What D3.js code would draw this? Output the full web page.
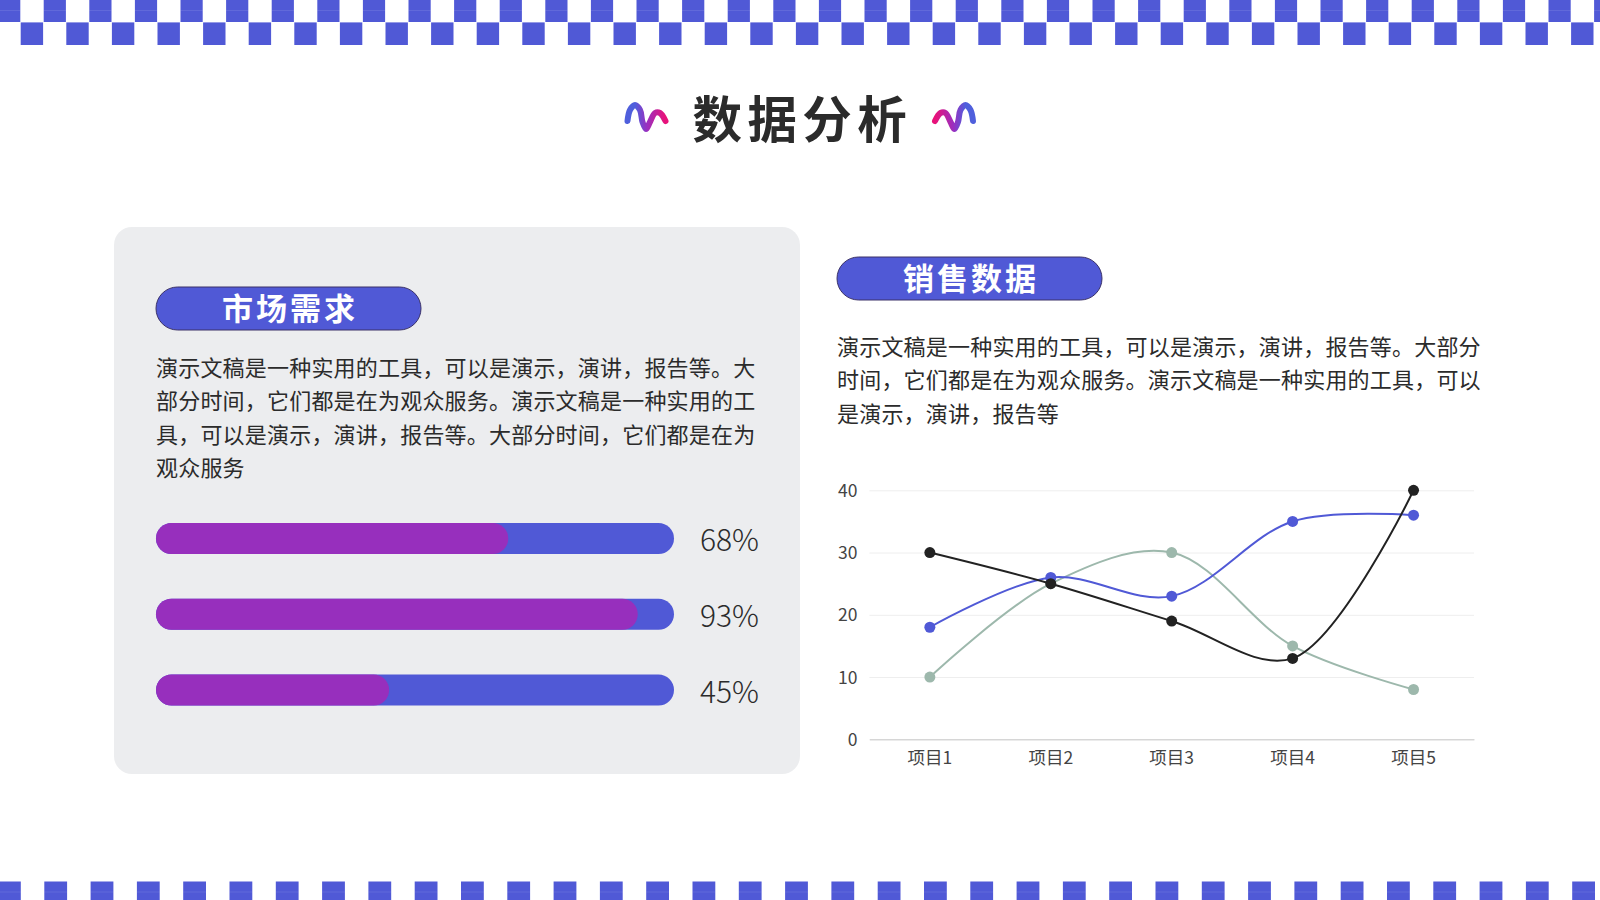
<!DOCTYPE html>
<html lang="zh-CN">
<head>
<meta charset="utf-8">
<title>数据分析</title>
<script src="https://cdn.jsdelivr.net/npm/d3@7"></script>
<style>
    html, body { margin: 0; padding: 0; background: #fff; }
    svg { display: block; }
    text { font-family: "Noto Sans CJK SC", "Noto Sans", sans-serif; }
</style>
</head>
<body>
<script>
//Data:
var title = '数据分析';
var leftHeading = '市场需求';
var rightHeading = '销售数据';
var leftLines = [
    '演示文稿是一种实用的工具\uFF0C可以是演示\uFF0C演讲\uFF0C报告等。大',
    '部分时间\uFF0C它们都是在为观众服务。演示文稿是一种实用的工',
    '具\uFF0C可以是演示\uFF0C演讲\uFF0C报告等。大部分时间\uFF0C它们都是在为',
    '观众服务'
];
var rightLines = [
    '演示文稿是一种实用的工具\uFF0C可以是演示\uFF0C演讲\uFF0C报告等。大部分',
    '时间\uFF0C它们都是在为观众服务。演示文稿是一种实用的工具\uFF0C可以',
    '是演示\uFF0C演讲\uFF0C报告等'
];
var barValues = [68, 93, 45];
var categories = ['项目1', '项目2', '项目3', '项目4', '项目5'];
var yTicks = [0, 10, 20, 30, 40];
var blueSeries = [18, 26, 23, 35, 36];
var greenSeries = [10, 25, 30, 15, 8];
var blackSeries = [30, 25, 19, 13, 40];

//Colours:
var blue = '#5059d6';
var purple = '#972fbd';
var green = '#9db8ac';
var black = '#222222';
var ink = '#2b2b2b';

//Setup the svg
var svg = d3.select('body').append('svg')
    .attr('id', 'mainsvg')
    .attr('width', 1600)
    .attr('height', 900);

//Checker bands:
function checkers(startX, step, size, y, height, seamY) {
    var n = Math.ceil((1600 - startX) / step);
    var g = svg.append('g');
    g.selectAll('rect.sq')
        .data(d3.range(n))
        .join('rect')
        .attr('class', 'sq')
        .attr('x', function (i) { return startX + i * step; })
        .attr('y', y)
        .attr('width', size)
        .attr('height', height)
        .attr('fill', blue);
    //faint seam across the squares
    if (seamY !== undefined) {
        g.selectAll('rect.seam')
            .data(d3.range(n))
            .join('rect')
            .attr('class', 'seam')
            .attr('x', function (i) { return startX + i * step; })
            .attr('y', seamY)
            .attr('width', size)
            .attr('height', 1)
            .attr('fill', '#fff')
            .attr('opacity', 0.1);
    }
}
checkers(-1.9, 45.6, 22.2, 0, 22, 10);
checkers(20.7, 45.6, 22.4, 22.4, 22.6);
checkers(-2, 46.3, 22.8, 881.5, 18.5, 891.5);

//Title with the two squiggles
var squiggle = d3.line().curve(d3.curveCatmullRom.alpha(0.5));
var squigglePts = [[627.5, 121], [630, 110], [635, 105], [640, 110], [642.5, 122], [646, 129], [650, 122], [655, 113], [660, 113], [665.5, 121]];
var defs = svg.append('defs');
var grad = defs.append('linearGradient')
    .attr('id', 'squig')
    .attr('gradientUnits', 'userSpaceOnUse')
    .attr('x1', 627).attr('y1', 0)
    .attr('x2', 667).attr('y2', 0);
grad.append('stop').attr('offset', '0.2').attr('stop-color', '#4f5fdc');
grad.append('stop').attr('offset', '0.5').attr('stop-color', '#9a2fc0');
grad.append('stop').attr('offset', '0.95').attr('stop-color', '#e8127a');

svg.append('path')
    .attr('d', squiggle(squigglePts))
    .attr('fill', 'none').attr('stroke', 'url(#squig)')
    .attr('stroke-width', 6).attr('stroke-linecap', 'round');
svg.append('path')
    .attr('d', squiggle(squigglePts))
    .attr('transform', 'translate(1600.5,0) scale(-1,1)')
    .attr('fill', 'none').attr('stroke', 'url(#squig)')
    .attr('stroke-width', 6).attr('stroke-linecap', 'round');

svg.append('text')
    .attr('x', 692.5)
    .attr('y', 137.5)
    .attr('font-size', 49.5)
    .attr('font-weight', 700)
    .attr('letter-spacing', 5.4)
    .attr('fill', ink)
    .text(title);

//Left panel:
svg.append('rect')
    .attr('x', 114).attr('y', 227)
    .attr('width', 686).attr('height', 547)
    .attr('rx', 18)
    .attr('fill', '#ecedef');

function pill(x, y, label) {
    svg.append('rect')
        .attr('x', x).attr('y', y)
        .attr('width', 265).attr('height', 43)
        .attr('rx', 21.5)
        .attr('fill', blue)
        .attr('stroke', '#3a3168')
        .attr('stroke-width', 1);
    svg.append('text')
        .attr('x', x + 132.5 + 1.5)
        .attr('y', y + 33)
        .attr('text-anchor', 'middle')
        .attr('font-size', 31)
        .attr('font-weight', 700)
        .attr('letter-spacing', 3)
        .attr('fill', '#fff')
        .text(label);
}
pill(156, 287, leftHeading);
pill(837, 257, rightHeading);

function paragraph(x, y, lines) {
    svg.append('g').selectAll('text')
        .data(lines)
        .join('text')
        .attr('x', x)
        .attr('y', function (d, i) { return y + i * 33.3; })
        .attr('font-size', 22)
        .attr('letter-spacing', 0.2)
        .attr('fill', ink)
        .text(function (d) { return d; });
}
paragraph(156, 376, leftLines);
paragraph(837, 355, rightLines);

//Progress bars:
var barX = d3.scaleLinear().domain([0, 100]).range([156, 674]);
var barY = d3.scaleBand()
    .domain(d3.range(barValues.length))
    .range([523, 705.6])
    .paddingInner(0.59)
    .paddingOuter(0);

var bars = svg.append('g').selectAll('g')
    .data(barValues)
    .join('g');
bars.append('rect')
    .attr('x', barX(0))
    .attr('y', function (d, i) { return barY(i); })
    .attr('width', barX(100) - barX(0))
    .attr('height', barY.bandwidth())
    .attr('rx', barY.bandwidth() / 2)
    .attr('fill', blue);
bars.append('rect')
    .attr('x', barX(0))
    .attr('y', function (d, i) { return barY(i); })
    .attr('width', function (d) { return barX(d) - barX(0); })
    .attr('height', barY.bandwidth())
    .attr('rx', barY.bandwidth() / 2)
    .attr('fill', purple);
bars.append('text')
    .attr('x', 700)
    .attr('y', function (d, i) { return barY(i) + barY.bandwidth() / 2 + 12.5; })
    .attr('font-size', 30)
    .attr('font-weight', 300)
    .attr('fill', ink)
    .text(function (d) { return d + '%'; });

//Line chart:
var x = d3.scaleBand().domain(categories).range([869.4, 1474]);
var y = d3.scaleLinear().domain([0, 40]).range([739.3, 490.3]);

var yAxis = svg.append('g')
    .attr('transform', 'translate(869.4,0)')
    .call(d3.axisLeft(y).tickValues(yTicks).tickSize(-(1474 - 869.4)).tickPadding(12));
yAxis.select('.domain').remove();
yAxis.selectAll('line').attr('stroke', '#eeeeee').attr('stroke-width', 1);
yAxis.selectAll('text').attr('font-size', 17.5).attr('fill', '#444444')
    .attr('dy', '0.34em')
    .style('font-family', '"Noto Sans CJK SC", sans-serif');

var xAxis = svg.append('g')
    .attr('transform', 'translate(0,739.3)')
    .call(d3.axisBottom(x).tickSize(0).tickPadding(12));
xAxis.select('.domain').attr('stroke', '#c9c9c9');
xAxis.selectAll('text').attr('font-size', 17.5).attr('fill', '#444444')
    .style('font-family', '"Noto Sans CJK SC", sans-serif');

var line = d3.line()
    .x(function (d, i) { return x(categories[i]) + x.bandwidth() / 2; })
    .y(function (d) { return y(d); })
    .curve(d3.curveCatmullRom.alpha(0.5));

[[greenSeries, green], [blueSeries, blue], [blackSeries, black]].forEach(function (s) {
    var g = svg.append('g');
    g.append('path')
        .attr('d', line(s[0]))
        .attr('fill', 'none')
        .attr('stroke', s[1])
        .attr('stroke-width', 2);
    g.selectAll('circle')
        .data(s[0])
        .join('circle')
        .attr('cx', function (d, i) { return x(categories[i]) + x.bandwidth() / 2; })
        .attr('cy', function (d) { return y(d); })
        .attr('r', 5.5)
        .attr('fill', s[1]);
});
</script>
</body>
</html>
